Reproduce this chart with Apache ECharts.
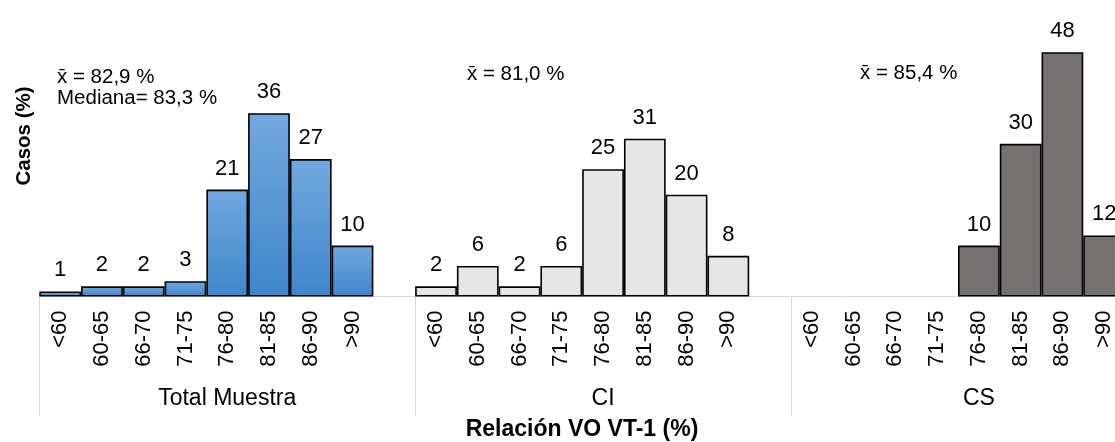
<!DOCTYPE html>
<html>
<head>
<meta charset="utf-8">
<script src="https://cdn.jsdelivr.net/npm/echarts@6/dist/echarts.min.js"></script>
<style>
html,body{margin:0;padding:0;background:#fff;}
#c{width:1115px;height:442px;}
</style>
</head>
<body>
<div id="c"></div>
<script>
const categories = ['<60','60-65','66-70','71-75','76-80','81-85','86-90','>90'];
const groupNames = ['Total Muestra','CI','CS'];
const totalMuestra = [1,2,2,3,21,36,27,10];
const ci = [2,6,2,6,25,31,20,8];
const cs = [null,null,null,null,10,30,48,12];
const annotations = [
  {text:'x\u0304 = 82,9 %', x:57, y:77},
  {text:'Mediana= 83,3 %', x:57, y:98},
  {text:'x\u0304 = 81,0 %', x:467, y:74},
  {text:'x\u0304 = 85,4 %', x:860, y:73}
];
const yTitle = 'Casos (%)';
const xTitle = 'Relación VO VT-1 (%)';

const FONT = 'Liberation Sans, Arial, sans-serif';
const slots = categories.length + 1;
const xCats = [];
groupNames.forEach(() => { categories.forEach(c => xCats.push(c)); xCats.push(''); });

function place(values, g) {
  const arr = new Array(xCats.length).fill(null);
  values.forEach((v, i) => { arr[g * slots + i] = v; });
  return arr;
}

const fills = [
  new echarts.graphic.LinearGradient(0, 0, 0, 1, [
    {offset: 0, color: '#72a8de'},
    {offset: 1, color: '#3e86cb'}
  ]),
  '#e7e6e6',
  '#767171'
];
const groupsData = [totalMuestra, ci, cs];

const series = groupsData.map((vals, g) => ({
  type: 'bar',
  name: groupNames[g],
  stack: 'all',
  barCategoryGap: 0,
  xAxisIndex: 0,
  data: place(vals, g),
  itemStyle: {color: fills[g], borderColor: '#000', borderWidth: 1.6},
  label: {show: true, position: 'top', distance: 10, color: '#000', fontSize: 22, fontFamily: FONT},
  emphasis: {disabled: true},
  animation: false
}));

const gridLeft = 39.3;
const slotW = 41.76;
const chart = echarts.init(document.getElementById('c'), null, {renderer: 'canvas'});
chart.setOption({
  animation: false,
  grid: {left: gridLeft, right: 1115 - gridLeft - slotW * xCats.length, top: 42, bottom: 145.5,
         containLabel: false, outerBoundsMode: 'none'},
  xAxis: [
    {
      type: 'category', data: xCats, position: 'bottom',
      axisLine: {show: true, lineStyle: {color: '#d9d9d9', width: 1}},
      axisTick: {show: false},
      axisLabel: {interval: 0, rotate: 90, margin: 14, fontSize: 22, color: '#000', fontFamily: FONT}
    },
    {
      type: 'category', data: groupNames, position: 'bottom', gridIndex: 0,
      axisLine: {show: false},
      axisTick: {show: true, length: 119, lineStyle: {color: '#d9d9d9', width: 1}},
      axisLabel: {margin: 91, fontSize: 23, color: '#000', fontFamily: FONT}
    }
  ],
  yAxis: {type: 'value', min: 0, max: 50, show: false, splitLine: {show: false}},
  series: series,
  graphic: annotations.map(a => ({
    type: 'text', x: a.x, y: a.y,
    style: {text: a.text, fontSize: 20.5, fontFamily: FONT, fill: '#000', align: 'left', verticalAlign: 'middle'}
  })).concat([
    {type: 'text', x: 24, y: 136, rotation: Math.PI / 2,
     style: {text: yTitle, fontSize: 20.5, fontWeight: 'bold', fontFamily: FONT, fill: '#000', align: 'center', verticalAlign: 'middle'}},
    {type: 'text', x: 582, y: 430,
     style: {text: xTitle, fontSize: 23, fontWeight: 'bold', fontFamily: FONT, fill: '#000', align: 'center', verticalAlign: 'middle'}}
  ])
});
</script>
</body>
</html>
